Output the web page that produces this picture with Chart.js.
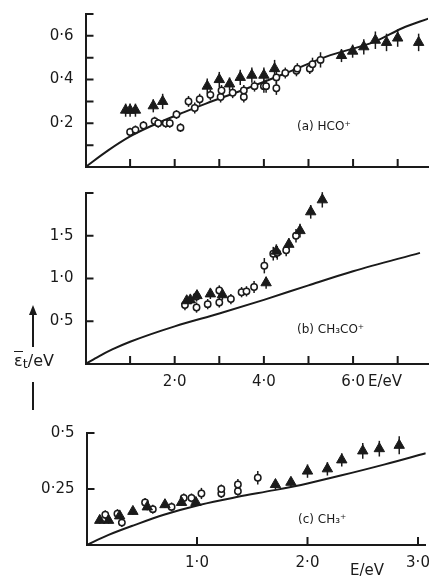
<!DOCTYPE html>
<html>
<head>
<meta charset="utf-8">
<script src="https://cdn.jsdelivr.net/npm/chart.js@4"></script>
<style>
  body { margin: 0; background: #fff; width: 431px; height: 577px; position: relative; overflow: hidden;
         font-family: "DejaVu Sans", sans-serif; color: #1a1a1a; }
  canvas { position: absolute; left: 0; }
  #ca { top: 0; }
  #cb { top: 180px; }
  #cc { top: 400px; }
  #ylab { position: absolute; left: 14px; top: 351px; font-size: 16px; white-space: nowrap; }
  #ylab .eps { display: inline-block; border-top: 1.5px solid #1a1a1a; line-height: 15px; padding-top: 1px; }
  #ylab sub { font-size: 13px; vertical-align: -2px; }
  .shaft { position: absolute; left: 32px; width: 2px; background: #1a1a1a; }
  .head { position: absolute; left: 29px; top: 305px; width: 0; height: 0;
          border-left: 4px solid transparent; border-right: 4px solid transparent; border-bottom: 10px solid #1a1a1a; }
</style>
</head>
<body>
<canvas id="ca" width="431" height="180"></canvas>
<canvas id="cb" width="431" height="220"></canvas>
<canvas id="cc" width="431" height="177"></canvas>
<div class="head"></div>
<div class="shaft" style="top:313px;height:34px"></div>
<div id="ylab"><span class="eps">ε</span><sub>t</sub>/eV</div>
<div class="shaft" style="top:382px;height:28px"></div>
<script>
// ---- (a) HCO+ ----
const aCurveE = [0, 0.5, 1, 1.5, 2.2, 2.7, 3.5, 4.5, 5.4, 6.5, 7.1, 7.7];
const aCurveV = [0, 0.075, 0.14, 0.19, 0.25, 0.29, 0.35, 0.43, 0.505, 0.575, 0.635, 0.68];
const aTriE = [0.9, 1.0, 1.12, 1.52, 1.73, 2.73, 3.0, 3.23, 3.47, 3.73, 4.0, 4.24, 5.74, 5.99, 6.24, 6.5, 6.75, 7.0, 7.47];
const aTriV = [0.26, 0.26, 0.26, 0.28, 0.30, 0.37, 0.40, 0.38, 0.41, 0.42, 0.42, 0.45, 0.51, 0.53, 0.55, 0.58, 0.57, 0.59, 0.57];
const aTriErr = [0.03, 0.03, 0.03, 0.03, 0.035, 0.035, 0.035, 0.03, 0.035, 0.035, 0.035, 0.04, 0.03, 0.03, 0.035, 0.04, 0.04, 0.04, 0.04];
const aCircE = [1.0, 1.12, 1.3, 1.55, 1.63, 1.8, 1.89, 2.04, 2.13, 2.31, 2.45, 2.56, 2.8, 3.03, 3.05, 3.3, 3.55, 3.55, 3.79, 4.0, 4.05, 4.28, 4.28, 4.48, 4.73, 4.75, 5.03, 5.09, 5.27];
const aCircV = [0.16, 0.17, 0.19, 0.21, 0.20, 0.20, 0.20, 0.24, 0.18, 0.30, 0.27, 0.31, 0.33, 0.32, 0.35, 0.34, 0.32, 0.35, 0.37, 0.37, 0.37, 0.36, 0.41, 0.43, 0.44, 0.45, 0.45, 0.47, 0.49];
const aCircErr = [0.02, 0.02, 0.02, 0.02, 0.02, 0.02, 0.02, 0.02, 0.02, 0.025, 0.025, 0.025, 0.025, 0.025, 0.025, 0.025, 0.025, 0.025, 0.025, 0.03, 0.03, 0.03, 0.03, 0.025, 0.025, 0.025, 0.025, 0.03, 0.035];
const aXTicks = [1, 2, 3, 4, 5, 6, 7];
const aXText = ['', '', '', '', '', '', ''];
const aYTicks = [0.1, 0.2, 0.3, 0.4, 0.5, 0.6, 0.7];
const aYText = ['', '0·2', '', '0·4', '', '0·6', ''];

// ---- (b) CH3CO+ ----
const bCurveE = [0, 0.3, 0.6, 1, 2, 3, 4, 5, 6, 7.5];
const bCurveV = [0, 0.09, 0.17, 0.26, 0.44, 0.59, 0.75, 0.92, 1.085, 1.30];
const bTriE = [2.27, 2.35, 2.5, 2.8, 3.07, 4.05, 4.28, 4.56, 4.81, 5.05, 5.31];
const bTriV = [0.74, 0.75, 0.80, 0.82, 0.81, 0.95, 1.32, 1.40, 1.56, 1.78, 1.92];
const bTriErr = [0.05, 0.05, 0.05, 0.06, 0.06, 0.07, 0.08, 0.07, 0.08, 0.08, 0.09];
const bCircE = [2.23, 2.49, 2.49, 2.74, 3.0, 3.0, 3.26, 3.5, 3.61, 3.78, 4.01, 4.21, 4.3, 4.5, 4.72];
const bCircV = [0.69, 0.79, 0.66, 0.70, 0.86, 0.72, 0.76, 0.84, 0.85, 0.90, 1.15, 1.29, 1.30, 1.33, 1.50];
const bCircErr = [0.06, 0.06, 0.06, 0.06, 0.06, 0.06, 0.06, 0.06, 0.06, 0.07, 0.09, 0.08, 0.08, 0.07, 0.08];
const bXTicks = [1, 2, 3, 4, 5, 6, 7];
const bXText = ['', '2·0', '', '4·0', '', '6·0', ''];
const bYTicks = [0.5, 1.0, 1.5, 2.0];
const bYText = ['0·5', '1·0', '1·5', ''];

// ---- (c) CH3+ ----
const cCurveE = [0, 0.2, 0.44, 0.7, 1.03, 1.37, 1.7, 2.0, 2.3, 2.7, 3.07];
const cCurveV = [0, 0.045, 0.09, 0.135, 0.18, 0.215, 0.245, 0.275, 0.31, 0.36, 0.41];
const cTriE = [0.12, 0.2, 0.3, 0.42, 0.55, 0.71, 0.86, 0.99, 1.71, 1.85, 2.0, 2.18, 2.31, 2.5, 2.65, 2.83];
const cTriV = [0.11, 0.11, 0.13, 0.15, 0.17, 0.18, 0.19, 0.19, 0.27, 0.28, 0.33, 0.34, 0.38, 0.42, 0.43, 0.445];
const cTriErr = [0.015, 0.015, 0.015, 0.015, 0.015, 0.015, 0.015, 0.015, 0.02, 0.02, 0.03, 0.03, 0.03, 0.035, 0.035, 0.04];
const cCircE = [0.17, 0.28, 0.32, 0.53, 0.6, 0.77, 0.88, 0.95, 1.04, 1.22, 1.22, 1.37, 1.37, 1.55];
const cCircV = [0.135, 0.14, 0.10, 0.19, 0.16, 0.17, 0.21, 0.21, 0.23, 0.23, 0.25, 0.27, 0.24, 0.30];
const cCircErr = [0.02, 0.02, 0.02, 0.02, 0.02, 0.02, 0.02, 0.02, 0.025, 0.02, 0.02, 0.025, 0.02, 0.03];
const cXTicks = [1, 2, 3];
const cXText = ['1·0', '2·0', '3·0'];
const cYTicks = [0.25, 0.5];
const cYText = ['0·25', '0·5'];

const ink = '#1a1a1a';
const tickFont = { family: 'DejaVu Sans', size: 15 };
const pts = (E, V) => E.map((e, i) => ({ x: e, y: V[i] }));

// vertical error bars, drawn under the markers
const errorBars = {
  id: 'errorBars',
  beforeDatasetsDraw(chart) {
    const { ctx, scales: { x, y } } = chart;
    ctx.save();
    ctx.strokeStyle = ink;
    ctx.lineWidth = 1.5;
    chart.data.datasets.forEach(ds => {
      if (!ds.err) return;
      ds.data.forEach((p, i) => {
        const px = x.getPixelForValue(p.x);
        ctx.beginPath();
        ctx.moveTo(px, y.getPixelForValue(p.y - ds.err[i]));
        ctx.lineTo(px, y.getPixelForValue(p.y + ds.err[i]));
        ctx.stroke();
      });
    });
    ctx.restore();
  }
};

// tick marks pointing into the plot, plus the panel captions
const inTicks = {
  id: 'inTicks',
  afterDraw(chart, args, opts) {
    const { ctx, chartArea: a, scales: { x, y } } = chart;
    ctx.save();
    ctx.strokeStyle = ink;
    ctx.lineWidth = 2;
    ctx.beginPath();
    x.ticks.forEach(t => {
      const px = x.getPixelForValue(t.value);
      ctx.moveTo(px, a.bottom);
      ctx.lineTo(px, a.bottom - 8);
    });
    y.ticks.forEach(t => {
      const py = y.getPixelForValue(t.value);
      ctx.moveTo(a.left, py);
      ctx.lineTo(a.left + 8, py);
    });
    ctx.stroke();
    ctx.fillStyle = ink;
    ctx.textBaseline = 'middle';
    (opts.notes || []).forEach(n => {
      ctx.font = n.font;
      ctx.fillText(n.text, n.x, n.y);
    });
    ctx.restore();
  }
};

function makePanel(id, p) {
  new Chart(document.getElementById(id), {
    type: 'scatter',
    data: {
      datasets: [
        { data: pts(p.tE, p.tV), err: p.tErr, pointStyle: 'triangle', pointRadius: 6,
          backgroundColor: ink, borderColor: ink, borderWidth: 1, order: 1, clip: false },
        { data: pts(p.cE, p.cV), err: p.cErr, pointStyle: 'circle', pointRadius: 3.2,
          backgroundColor: '#fff', borderColor: ink, borderWidth: 1.5, order: 2, clip: false },
        { data: pts(p.lE, p.lV), showLine: true, pointRadius: 0, borderColor: ink, borderWidth: 2,
          cubicInterpolationMode: 'monotone', order: 3 }
      ]
    },
    options: {
      responsive: false,
      animation: false,
      layout: { padding: { top: p.top, right: 3, left: 0, bottom: 0 }, autoPadding: false },
      plugins: { legend: { display: false }, tooltip: { enabled: false }, inTicks: { notes: p.notes } },
      scales: {
        x: {
          type: 'linear', min: 0, max: p.xMax,
          afterBuildTicks: s => { s.ticks = p.xTicks.map(v => ({ value: v })); },
          afterFit: s => { s.height = p.xH; },
          grid: { display: false },
          border: { display: true, color: ink, width: 2 },
          ticks: { display: p.xLabels, font: tickFont, color: ink, padding: 1, autoSkip: false, maxRotation: 0,
                   callback: (v, i) => p.xText[i] }
        },
        y: {
          type: 'linear', min: 0, max: p.yMax,
          afterBuildTicks: s => { s.ticks = p.yTicks.map(v => ({ value: v })); },
          afterFit: s => { s.width = p.yW; },
          grid: { display: false },
          border: { display: true, color: ink, width: 2 },
          ticks: { font: tickFont, color: ink, padding: 4, autoSkip: false, callback: (v, i) => p.yText[i] }
        }
      }
    },
    plugins: [errorBars, inTicks]
  });
}

const noteFont = '12px "DejaVu Sans"';
const unitFont = '15px "DejaVu Sans"';

makePanel('ca', {
  tE: aTriE, tV: aTriV, tErr: aTriErr, cE: aCircE, cV: aCircV, cErr: aCircErr, lE: aCurveE, lV: aCurveV,
  xMax: 7.68, yMax: 0.7, xTicks: aXTicks, xText: aXText, yTicks: aYTicks, yText: aYText,
  top: 14, xH: 8.5, yW: 85.5, xLabels: false,
  notes: [{ text: '(a) HCO⁺', x: 297, y: 127, font: noteFont }]
});
makePanel('cb', {
  tE: bTriE, tV: bTriV, tErr: bTriErr, cE: bCircE, cV: bCircV, cErr: bCircErr, lE: bCurveE, lV: bCurveV,
  xMax: 7.68, yMax: 2.0, xTicks: bXTicks, xText: bXText, yTicks: bYTicks, yText: bYText,
  top: 3, xH: 36, yW: 85.5, xLabels: true,
  notes: [{ text: '(b) CH₃CO⁺', x: 297, y: 150, font: noteFont },
          { text: 'E/eV', x: 368, y: 202, font: unitFont }]
});
makePanel('cc', {
  tE: cTriE, tV: cTriV, tErr: cTriErr, cE: cCircE, cV: cCircV, cErr: cCircErr, lE: cCurveE, lV: cCurveV,
  xMax: 3.07, yMax: 0.5, xTicks: cXTicks, xText: cXText, yTicks: cYTicks, yText: cYText,
  top: 33, xH: 32, yW: 86.5, xLabels: true,
  notes: [{ text: '(c) CH₃⁺', x: 298, y: 120, font: noteFont },
          { text: 'E/eV', x: 350, y: 171, font: unitFont }]
});
</script>
</body>
</html>
